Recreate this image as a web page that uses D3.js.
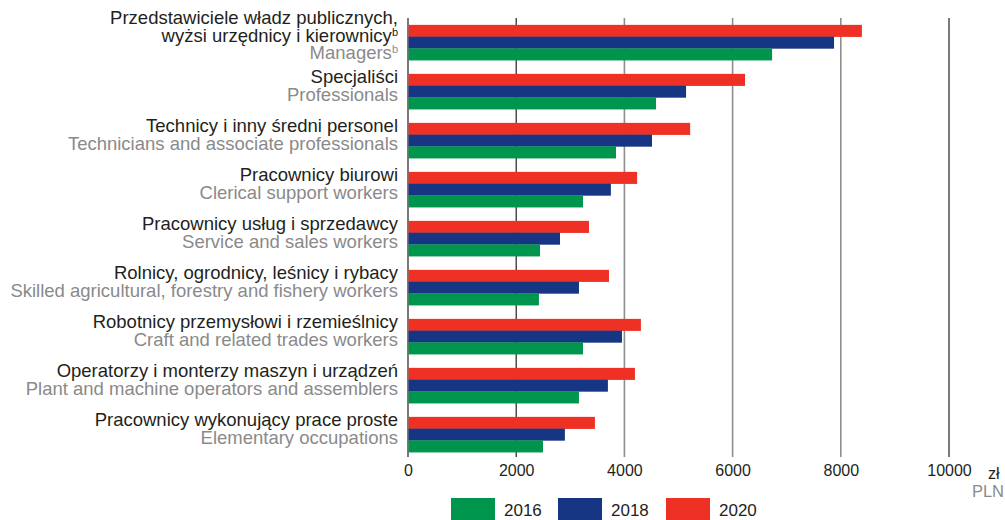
<!DOCTYPE html>
<html>
<head>
<meta charset="utf-8">
<script src="https://cdn.jsdelivr.net/npm/d3@7"></script>
<style>
  body { margin: 0; background: #fff; }
  text { font-family: "Liberation Sans", Arial, sans-serif; }
</style>
</head>
<body>
<div id="chart"></div>
<script>
// categories: Polish label lines + English line
const categoriesPl = [
  ['Przedstawiciele władz publicznych,', 'wyżsi urzędnicy i kierownicy|b'],
  ['Specjaliści'],
  ['Technicy i inny średni personel'],
  ['Pracownicy biurowi'],
  ['Pracownicy usług i sprzedawcy'],
  ['Rolnicy, ogrodnicy, leśnicy i rybacy'],
  ['Robotnicy przemysłowi i rzemieślnicy'],
  ['Operatorzy i monterzy maszyn i urządzeń'],
  ['Pracownicy wykonujący prace proste']
];
const categoriesEn = [
  'Managers|b',
  'Professionals',
  'Technicians and associate professionals',
  'Clerical support workers',
  'Service and sales workers',
  'Skilled agricultural, forestry and fishery workers',
  'Craft and related trades workers',
  'Plant and machine operators and assemblers',
  'Elementary occupations'
];
const years = ['2020', '2018', '2016'];
const values2016 = [6730, 4585, 3845, 3235, 2440, 2420, 3235, 3160, 2495];
const values2018 = [7875, 5140, 4510, 3750, 2810, 3160, 3955, 3695, 2900];
const values2020 = [8390, 6230, 5215, 4235, 3345, 3715, 4305, 4195, 3455];
const xTicks = [0, 2000, 4000, 6000, 8000, 10000];

const colors = { '2016': '#00954c', '2018': '#163683', '2020': '#ee3124' };
const seriesByYear = { '2016': values2016, '2018': values2018, '2020': values2020 };

const W = 1005, H = 520;
const svg = d3.select('#chart').append('svg').attr('width', W).attr('height', H);

const x = d3.scaleLinear().domain([0, 10000]).range([408, 949]);
const y = d3.scaleBand().domain(d3.range(categoriesPl.length)).range([18, 459])
  .paddingInner(0.28).paddingOuter(0.14);
const ySub = d3.scaleBand().domain(years).range([0, y.bandwidth()]);

// grid lines
svg.append('g').selectAll('line').data(xTicks).enter().append('line')
  .attr('x1', d => x(d)).attr('x2', d => x(d))
  .attr('y1', 18).attr('y2', 457)
  .attr('stroke', d => (d === 0 || d === 2000 || d === 10000) ? '#231f20' : '#8e8e8e')
  .attr('stroke-width', d => (d === 0 || d === 2000 || d === 10000) ? 1.2 : 1.6);

// bars
const groups = svg.append('g').selectAll('g').data(d3.range(categoriesPl.length)).enter()
  .append('g').attr('transform', i => 'translate(0,' + y(i) + ')');
groups.selectAll('rect').data(i => years.map(yr => ({ yr, v: seriesByYear[yr][i] })))
  .enter().append('rect')
  .attr('x', x(0) + 0.6)
  .attr('y', d => ySub(d.yr))
  .attr('width', d => x(d.v) - x(0) - 0.6)
  .attr('height', ySub.bandwidth() + 0.3)
  .attr('fill', d => colors[d.yr]);

// axis labels
const xAxis = d3.axisBottom(x).tickValues(xTicks).tickSize(0).tickPadding(0).tickFormat(d3.format('d'));
const gx = svg.append('g').attr('transform', 'translate(0,465)').call(xAxis);
gx.select('.domain').remove();
gx.selectAll('text').attr('font-size', 16).attr('fill', '#231f20')
  .attr('font-family', '"Liberation Sans", Arial, sans-serif');

svg.append('text').attr('x', 988).attr('y', 479).attr('font-size', 16).attr('fill', '#231f20').text('zł');
svg.append('text').attr('x', 1004).attr('y', 497).attr('font-size', 16.5).attr('fill', '#8a8a8a')
  .attr('text-anchor', 'end').text('PLN');

// category labels
function addLine(sel, str, fill) {
  const [main, sup] = str.split('|');
  sel.append('tspan').attr('fill', fill).text(main);
  if (sup) sel.append('tspan').attr('fill', fill).attr('font-size', 11).attr('dy', -6).text(sup);
}
categoriesPl.forEach((pl, i) => {
  const lines = pl.map(s => ({ s, fill: '#231f20' })).concat([{ s: categoriesEn[i], fill: '#8a8a8a' }]);
  const c = y(i) + y.bandwidth() / 2;
  const start = lines.length === 3 ? c - 18.5 : c - 8.5;
  lines.forEach((ln, k) => {
    const t = svg.append('text').attr('x', 398).attr('y', start + k * 17.6)
      .attr('text-anchor', 'end').attr('font-size', 18.5);
    addLine(t, ln.s, ln.fill);
  });
});

// legend
const legendYears = ['2016', '2018', '2020'];
const lx = d3.scaleOrdinal().domain(legendYears).range([451, 558, 666]);
const lg = svg.append('g').selectAll('g').data(legendYears).enter().append('g');
lg.append('rect').attr('x', d => lx(d)).attr('y', 498).attr('width', 44).attr('height', 22)
  .attr('fill', d => colors[d]);
lg.append('text').attr('x', d => lx(d) + 53).attr('y', 516).attr('font-size', 17)
  .attr('fill', '#231f20').text(d => d);
</script>
</body>
</html>
